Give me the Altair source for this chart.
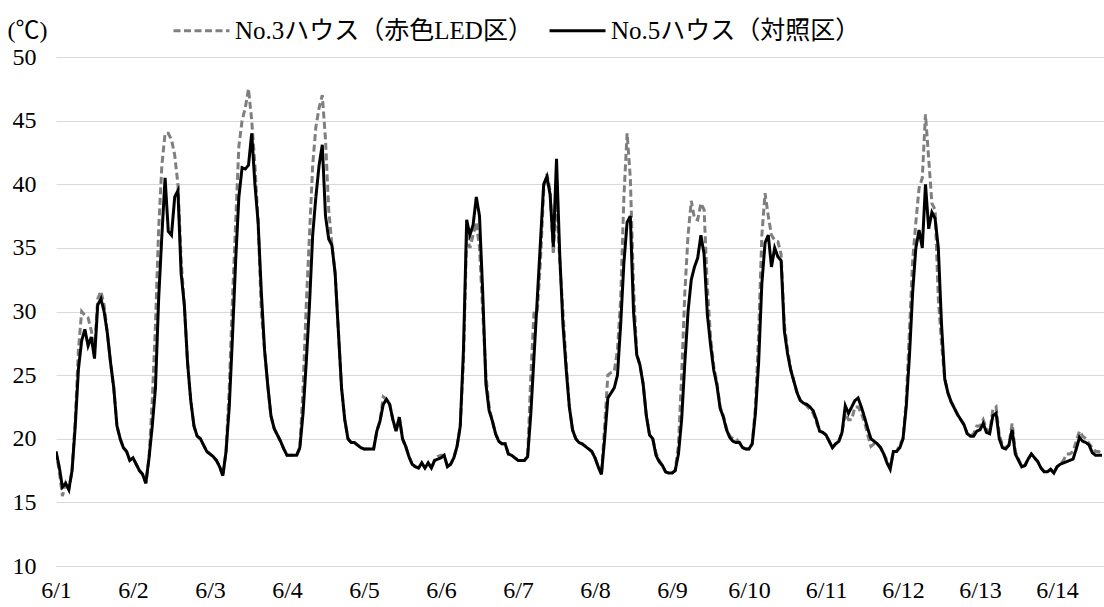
import altair as alt
import pandas as pd

FONT = "Times New Roman, Liberation Serif, Noto Sans CJK JP, serif"
NUM_FONT = "Times New Roman, Liberation Serif, serif"

series_names = ["No.3ハウス（赤色LED区）", "No.5ハウス（対照区）"]
day_labels = ["6/1", "6/2", "6/3", "6/4", "6/5", "6/6", "6/7", "6/8",
              "6/9", "6/10", "6/11", "6/12", "6/13", "6/14"]
y_ticks = [10, 15, 20, 25, 30, 35, 40, 45, 50]

# hourly readings, No.5 (control, solid black)
no5_days = [
    [19, 17.8, 16.2, 16.5, 16, 17.5, 21, 25.5, 27.7, 28.6, 27.3, 28, 26.3, 30.5, 31, 30, 28.3, 26, 24, 21, 20, 19.3, 19, 18.3],
    [18.5, 18, 17.5, 17.2, 16.5, 18.5, 21, 24, 31, 36, 40.5, 36.3, 36, 39, 39.5, 33, 30.5, 26, 23, 21, 20.2, 20, 19.5, 19],
    [18.8, 18.6, 18.3, 17.8, 17.1, 19, 22.5, 28, 34, 39, 41.3, 41.2, 41.5, 44, 40, 37, 31.5, 27, 24.2, 21.8, 20.8, 20.3, 19.8, 19.2],
    [18.7, 18.7, 18.7, 18.7, 19.3, 22, 26, 30.5, 36, 39, 41.5, 43.1, 37.5, 35.7, 35.2, 33, 28.5, 24, 21.5, 20, 19.7, 19.7, 19.5, 19.3],
    [19.2, 19.2, 19.2, 19.2, 20.6, 21.4, 22.7, 23.1, 22.7, 21.5, 20.6, 21.7, 20, 19.4, 18.6, 18, 17.8, 17.7, 18.1, 17.7, 18.1, 17.7, 18.3, 18.4],
    [18.5, 18.7, 17.8, 18, 18.5, 19.4, 21, 27, 37.2, 36, 36.8, 39, 37.5, 31.5, 24.3, 22.2, 21.4, 20.4, 19.8, 19.6, 19.6, 18.8, 18.7, 18.5],
    [18.3, 18.3, 18.3, 18.6, 22, 26.5, 31, 35.5, 40, 40.6, 39.2, 35.1, 42, 34.5, 29, 25.5, 22.5, 20.7, 20, 19.7, 19.6, 19.4, 19.2, 19],
    [18.5, 17.8, 17.2, 20, 23.2, 23.6, 24, 25, 29, 33.8, 37, 37.5, 30, 26.6, 25.8, 24.3, 21.8, 20.3, 20, 18.7, 18.2, 17.9, 17.4, 17.3],
    [17.3, 17.5, 18.8, 21.5, 26, 30, 32.5, 33.5, 34.2, 36, 34.5, 29.8, 27.4, 25.4, 24.2, 22.4, 21.7, 20.7, 20.1, 19.8, 19.7, 19.7, 19.3, 19.2],
    [19.2, 19.6, 22, 26, 32.2, 35.4, 36, 33.5, 35, 34.3, 34, 28.5, 26.7, 25.4, 24.5, 23.6, 23, 22.8, 22.7, 22.5, 22.2, 21.5, 20.6, 20.5],
    [20.3, 19.8, 19.3, 19.6, 19.8, 20.5, 22.6, 22, 22.5, 23, 23.2, 22.5, 21.7, 20.8, 20, 19.8, 19.6, 19.3, 18.8, 18.1, 17.6, 19, 19, 19.3],
    [20, 22.5, 26.5, 31.5, 35, 36.4, 35, 40, 36.5, 37.8, 37.3, 35, 29, 24.7, 23.6, 22.9, 22.4, 21.9, 21.5, 21.1, 20.4, 20.2, 20.2, 20.6],
    [20.7, 21.2, 20.5, 20.4, 21.8, 22, 20, 19.3, 19.2, 19.5, 20.7, 18.8, 18.3, 17.8, 17.9, 18.4, 18.8, 18.5, 18.2, 17.7, 17.4, 17.4, 17.6, 17.3],
    [17.8, 18, 18.1, 18.2, 18.3, 18.4, 19.2, 20.1, 19.8, 19.7, 19.5, 18.9, 18.7, 18.7, 18.7],
]

# hourly readings, No.3 (red LED, dashed gray)
no3_days = [
    [19, 17.5, 15.5, 16.5, 16, 17.5, 21.5, 27, 30, 29.7, 29.5, 28.5, 27, 31, 31.6, 30.5, 28.3, 26, 24, 21, 20, 19.3, 19, 18.3],
    [18.5, 18, 17.5, 17.2, 16.5, 18.5, 23, 29, 36.5, 41.5, 44, 44, 43.5, 42.3, 40, 34, 30.5, 26, 23, 21, 20.2, 20, 19.5, 19],
    [18.8, 18.6, 18.3, 17.8, 17.1, 19, 24, 31, 37, 43, 45, 46, 47.5, 45, 41.5, 37, 30, 27, 24.2, 21.8, 20.8, 20.3, 19.8, 19.2],
    [18.7, 18.7, 18.7, 18.7, 19.3, 24, 30.5, 36, 41.5, 44.5, 46, 47, 43.5, 38, 35.2, 33, 28.5, 24, 21.5, 20, 19.7, 19.7, 19.5, 19.3],
    [19.2, 19.2, 19.2, 19.2, 20.6, 21.4, 23.3, 23.1, 22.7, 21.5, 20.6, 21.7, 20, 19.4, 18.6, 18, 17.8, 17.7, 18.1, 17.7, 18.1, 17.7, 18.3, 18.6],
    [18.7, 18.7, 17.8, 18, 18.5, 19.4, 21, 26, 36, 35, 36, 37, 35, 30, 25, 22.5, 21.4, 20.4, 19.8, 19.6, 19.6, 18.8, 18.7, 18.5],
    [18.3, 18.3, 18.3, 18.6, 25, 30, 30, 34, 39.5, 40.8, 39.5, 34.5, 39, 34, 30, 26, 22.5, 20.7, 20, 19.7, 19.6, 19.4, 19.2, 19],
    [18.5, 17.8, 17.2, 21, 25, 25.2, 25.3, 27, 31, 39, 44, 40.5, 32, 26.7, 25.8, 24.3, 21.8, 20.3, 20, 18.9, 18.3, 17.9, 17.4, 17.3],
    [17.3, 17.5, 19.5, 25, 31.5, 36, 38.7, 37.3, 37.2, 38.5, 38, 32, 28, 25.7, 24.4, 22.5, 21.8, 20.8, 20.2, 20, 20, 19.7, 19.3, 19.2],
    [19.2, 19.6, 22.5, 28.3, 36, 39.3, 37.5, 36, 35.6, 35.5, 34.5, 29, 27, 25.5, 24.5, 23.6, 23, 22.8, 22.6, 22.3, 22, 21.3, 20.6, 20.5],
    [20.3, 19.8, 19.3, 19.6, 19.8, 20.5, 22, 21.5, 21.5, 22.5, 22.5, 22, 21.3, 20.3, 19.4, 19.6, 19.6, 19.3, 18.8, 18.3, 17.8, 19, 19, 19.5],
    [20, 23, 28.5, 34, 37, 39.7, 40.5, 45.5, 42, 38.5, 38, 31, 27.5, 24.7, 23.6, 22.9, 22.4, 21.9, 21.5, 21.1, 20.4, 20.2, 20.4, 21],
    [21, 21.5, 20.8, 20.5, 22.3, 22.5, 20.3, 19.5, 19.3, 19.5, 21.2, 19, 18.4, 17.8, 17.9, 18.4, 18.8, 18.5, 18.2, 17.7, 17.4, 17.4, 17.6, 17.3],
    [17.8, 18, 18.3, 18.8, 18.8, 19, 19.8, 20.6, 20.2, 20, 19.6, 19.3, 19, 19, 18.8],
]

rows = []
for name, days in zip(series_names, [no3_days, no5_days]):
    vals = [v for d in days for v in d]
    for i, v in enumerate(vals):
        rows.append({"t": i / 24.0, "temp": v, "series": name})
df = pd.DataFrame(rows)

label_expr = "[" + ",".join("'" + s + "'" for s in day_labels) + "][datum.value]"

x_enc = alt.X(
    "t:Q",
    scale=alt.Scale(domain=[0, 13.61], nice=False, zero=False),
    axis=alt.Axis(
        values=list(range(len(day_labels))),
        labelExpr=label_expr,
        title=None,
        grid=False,
        ticks=False,
        domain=True,
        domainColor="#d9d9d9",
        domainWidth=1,
        labelFont=NUM_FONT,
        labelFontSize=24,
        labelColor="#000000",
        labelPadding=12,
        labelFlush=False,
    ),
)
y_enc = alt.Y(
    "temp:Q",
    scale=alt.Scale(domain=[10, 50], nice=False, zero=False),
    axis=alt.Axis(
        values=y_ticks,
        title="(℃)",
        titleAngle=0,
        titleX=-49,
        titleY=-27,
        titleAlign="left",
        titleBaseline="middle",
        titleFont=FONT,
        titleFontSize=24,
        titleFontWeight="normal",
        titleColor="#000000",
        grid=True,
        gridColor="#d9d9d9",
        gridWidth=1,
        domain=False,
        ticks=False,
        labelFont=NUM_FONT,
        labelFontSize=24,
        labelColor="#000000",
        labelPadding=20,
    ),
)

legend = alt.Legend(
    orient="none",
    legendX=116,
    legendY=-56,
    direction="horizontal",
    title=None,
    symbolType="stroke",
    symbolSize=3136,
    symbolStrokeWidth=3,
    labelFont=FONT,
    labelFontSize=25,
    labelColor="#000000",
    labelOffset=4,
    columnPadding=10,
    labelLimit=600,
)

color_enc = alt.Color(
    "series:N",
    scale=alt.Scale(domain=series_names, range=["#7f7f7f", "#000000"]),
    legend=legend,
)
dash_enc = alt.StrokeDash(
    "series:N",
    scale=alt.Scale(domain=series_names, range=[[7, 3.5], [1, 0]]),
    legend=legend,
)

base = alt.Chart(df).encode(x=x_enc, y=y_enc, color=color_enc, strokeDash=dash_enc)

dashed = base.transform_filter(alt.datum.series == series_names[0]).mark_line(strokeWidth=3, clip=True)
solid = base.transform_filter(alt.datum.series == series_names[1]).mark_line(strokeWidth=3, clip=True)

chart = (
    alt.layer(dashed, solid)
    .properties(
        width=1048,
        height=509,
        autosize=alt.AutoSizeParams(type="none"),
        padding={"left": 56, "top": 57, "right": 0, "bottom": 41},
        background="#ffffff",
    )
    .configure_view(stroke=None)
)

chart.save("out.html", embed_options={"renderer": "svg", "actions": False})
